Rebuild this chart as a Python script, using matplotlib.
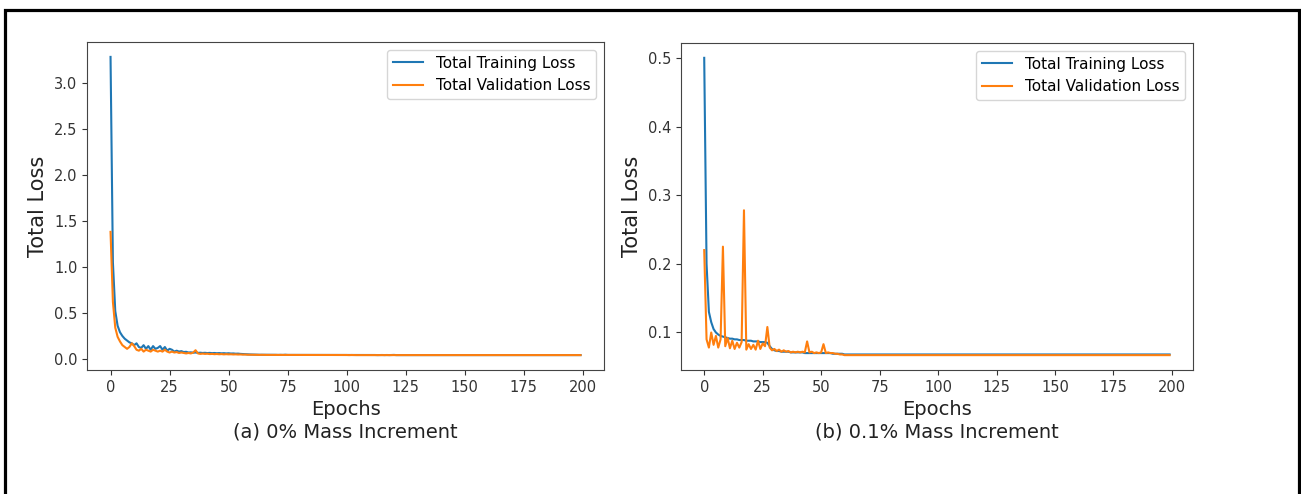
import matplotlib.pyplot as plt
import numpy as np
from matplotlib.patches import Rectangle

# (a) 0% mass increment
train_a = [3.28, 1.05, 0.52, 0.36, 0.29, 0.25, 0.22, 0.20, 0.18, 0.17,
           0.15, 0.17, 0.13, 0.12, 0.15, 0.11, 0.14, 0.10, 0.14, 0.11,
           0.12, 0.14, 0.10, 0.13, 0.09, 0.11, 0.10, 0.08, 0.09, 0.08,
           0.085, 0.075, 0.078, 0.070, 0.072, 0.068, 0.070, 0.066, 0.068, 0.065,
           0.067, 0.064, 0.066, 0.063, 0.065, 0.062, 0.064, 0.061, 0.063, 0.060,
           0.062, 0.059, 0.060, 0.057, 0.058, 0.055, 0.054, 0.052, 0.050, 0.049,
           0.048, 0.047, 0.047, 0.046, 0.046, 0.046, 0.045, 0.045, 0.045, 0.045,
           0.045, 0.044, 0.045, 0.044, 0.046, 0.044, 0.044, 0.045, 0.044, 0.044,
           0.044, 0.044, 0.044, 0.045, 0.044, 0.044, 0.044, 0.043, 0.044, 0.044,
           0.044, 0.043, 0.044, 0.043, 0.043, 0.044, 0.043, 0.043, 0.045, 0.043,
           0.043, 0.043, 0.043, 0.043, 0.043, 0.043, 0.043, 0.043, 0.043, 0.043,
           0.043, 0.043, 0.043, 0.042, 0.043, 0.043, 0.042, 0.043, 0.042, 0.043,
           0.044, 0.042, 0.042, 0.043, 0.042, 0.042, 0.042, 0.042, 0.043, 0.042,
           0.042, 0.042, 0.042, 0.042, 0.042, 0.042, 0.042, 0.042, 0.042, 0.042,
           0.042, 0.042, 0.042, 0.042, 0.042, 0.042, 0.042, 0.042, 0.042, 0.042,
           0.042, 0.042, 0.042, 0.042, 0.042, 0.042, 0.042, 0.042, 0.042, 0.042,
           0.042, 0.042, 0.042, 0.042, 0.042, 0.042, 0.042, 0.042, 0.042, 0.042,
           0.042, 0.042, 0.042, 0.042, 0.042, 0.042, 0.042, 0.042, 0.042, 0.042,
           0.042, 0.042, 0.042, 0.042, 0.042, 0.042, 0.042, 0.042, 0.042, 0.042,
           0.042, 0.042, 0.042, 0.042, 0.042, 0.042, 0.042, 0.042, 0.042, 0.042]
val_a = [1.38, 0.62, 0.34, 0.24, 0.19, 0.15, 0.13, 0.11, 0.13, 0.17,
         0.14, 0.10, 0.09, 0.11, 0.08, 0.10, 0.09, 0.08, 0.10, 0.09,
         0.08, 0.09, 0.08, 0.10, 0.08, 0.07, 0.08, 0.07, 0.075, 0.065,
         0.070, 0.065, 0.060, 0.065, 0.060, 0.070, 0.095, 0.060, 0.055, 0.058,
         0.055, 0.057, 0.053, 0.055, 0.052, 0.054, 0.051, 0.053, 0.050, 0.052,
         0.050, 0.051, 0.049, 0.050, 0.048, 0.049, 0.047, 0.048, 0.046, 0.046,
         0.045, 0.045, 0.045, 0.044, 0.045, 0.044, 0.044, 0.044, 0.044, 0.044,
         0.044, 0.044, 0.044, 0.043, 0.044, 0.043, 0.043, 0.044, 0.043, 0.043,
         0.043, 0.043, 0.043, 0.043, 0.043, 0.043, 0.043, 0.043, 0.043, 0.043,
         0.043, 0.043, 0.043, 0.043, 0.043, 0.043, 0.043, 0.043, 0.043, 0.043,
         0.043, 0.042, 0.043, 0.042, 0.042, 0.042, 0.042, 0.042, 0.042, 0.042,
         0.042, 0.042, 0.042, 0.042, 0.042, 0.042, 0.042, 0.042, 0.042, 0.042,
         0.042, 0.042, 0.042, 0.042, 0.042, 0.042, 0.042, 0.042, 0.042, 0.042,
         0.042, 0.042, 0.042, 0.042, 0.042, 0.042, 0.042, 0.042, 0.042, 0.042,
         0.042, 0.042, 0.042, 0.042, 0.042, 0.042, 0.042, 0.042, 0.042, 0.042,
         0.042, 0.042, 0.042, 0.042, 0.042, 0.042, 0.042, 0.042, 0.042, 0.042,
         0.042, 0.042, 0.042, 0.042, 0.042, 0.042, 0.042, 0.042, 0.042, 0.042,
         0.042, 0.042, 0.042, 0.042, 0.042, 0.042, 0.042, 0.042, 0.042, 0.042,
         0.042, 0.042, 0.042, 0.042, 0.042, 0.042, 0.042, 0.042, 0.042, 0.042,
         0.042, 0.042, 0.042, 0.042, 0.042, 0.042, 0.042, 0.042, 0.042, 0.042]

# (b) 0.1% mass increment
train_b = [0.500, 0.200, 0.130, 0.115, 0.105, 0.100, 0.097, 0.095, 0.094, 0.093,
           0.092, 0.091, 0.091, 0.090, 0.090, 0.089, 0.089, 0.089, 0.088, 0.088,
           0.088, 0.087, 0.087, 0.087, 0.086, 0.086, 0.086, 0.085, 0.080, 0.076,
           0.074, 0.073, 0.073, 0.072, 0.072, 0.072, 0.072, 0.071, 0.071, 0.071,
           0.071, 0.071, 0.071, 0.070, 0.070, 0.070, 0.070, 0.070, 0.070, 0.070,
           0.070, 0.070, 0.070, 0.070, 0.070, 0.069, 0.069, 0.069, 0.069, 0.069,
           0.068, 0.068, 0.068, 0.068, 0.068, 0.068, 0.068, 0.068, 0.068, 0.068,
           0.068, 0.068, 0.068, 0.068, 0.068, 0.068, 0.068, 0.068, 0.068, 0.068,
           0.068, 0.068, 0.068, 0.068, 0.068, 0.068, 0.068, 0.068, 0.068, 0.068,
           0.068, 0.068, 0.068, 0.068, 0.068, 0.068, 0.068, 0.068, 0.068, 0.068,
           0.068, 0.068, 0.068, 0.068, 0.068, 0.068, 0.068, 0.068, 0.068, 0.068,
           0.068, 0.068, 0.068, 0.068, 0.068, 0.068, 0.068, 0.068, 0.068, 0.068,
           0.068, 0.068, 0.068, 0.068, 0.068, 0.068, 0.068, 0.068, 0.068, 0.068,
           0.068, 0.068, 0.068, 0.068, 0.068, 0.068, 0.068, 0.068, 0.068, 0.068,
           0.068, 0.068, 0.068, 0.068, 0.068, 0.068, 0.068, 0.068, 0.068, 0.068,
           0.068, 0.068, 0.068, 0.068, 0.068, 0.068, 0.068, 0.068, 0.068, 0.068,
           0.068, 0.068, 0.068, 0.068, 0.068, 0.068, 0.068, 0.068, 0.068, 0.068,
           0.068, 0.068, 0.068, 0.068, 0.068, 0.068, 0.068, 0.068, 0.068, 0.068,
           0.068, 0.068, 0.068, 0.068, 0.068, 0.068, 0.068, 0.068, 0.068, 0.068,
           0.068, 0.068, 0.068, 0.068, 0.068, 0.068, 0.068, 0.068, 0.068, 0.068]
val_b = [0.220, 0.090, 0.078, 0.100, 0.082, 0.095, 0.078, 0.090, 0.225, 0.080,
         0.092, 0.077, 0.088, 0.076, 0.085, 0.078, 0.086, 0.278, 0.075, 0.083,
         0.076, 0.082, 0.075, 0.088, 0.076, 0.084, 0.080, 0.108, 0.078, 0.074,
         0.076, 0.073, 0.075, 0.072, 0.074, 0.072, 0.073, 0.071, 0.072, 0.071,
         0.072, 0.071, 0.072, 0.071, 0.087, 0.071, 0.072, 0.070, 0.071, 0.070,
         0.071, 0.083, 0.070, 0.071, 0.070, 0.070, 0.069, 0.069, 0.068, 0.068,
         0.067, 0.067, 0.067, 0.067, 0.067, 0.067, 0.067, 0.067, 0.067, 0.067,
         0.067, 0.067, 0.067, 0.067, 0.067, 0.067, 0.067, 0.067, 0.067, 0.067,
         0.067, 0.067, 0.067, 0.067, 0.067, 0.067, 0.067, 0.067, 0.067, 0.067,
         0.067, 0.067, 0.067, 0.067, 0.067, 0.067, 0.067, 0.067, 0.067, 0.067,
         0.067, 0.067, 0.067, 0.067, 0.067, 0.067, 0.067, 0.067, 0.067, 0.067,
         0.067, 0.067, 0.067, 0.067, 0.067, 0.067, 0.067, 0.067, 0.067, 0.067,
         0.067, 0.067, 0.067, 0.067, 0.067, 0.067, 0.067, 0.067, 0.067, 0.067,
         0.067, 0.067, 0.067, 0.067, 0.067, 0.067, 0.067, 0.067, 0.067, 0.067,
         0.067, 0.067, 0.067, 0.067, 0.067, 0.067, 0.067, 0.067, 0.067, 0.067,
         0.067, 0.067, 0.067, 0.067, 0.067, 0.067, 0.067, 0.067, 0.067, 0.067,
         0.067, 0.067, 0.067, 0.067, 0.067, 0.067, 0.067, 0.067, 0.067, 0.067,
         0.067, 0.067, 0.067, 0.067, 0.067, 0.067, 0.067, 0.067, 0.067, 0.067,
         0.067, 0.067, 0.067, 0.067, 0.067, 0.067, 0.067, 0.067, 0.067, 0.067,
         0.067, 0.067, 0.067, 0.067, 0.067, 0.067, 0.067, 0.067, 0.067, 0.067]

captions = ["(a) 0% Mass Increment", "(b) 0.1% Mass Increment"]
epochs = np.arange(len(train_a))

fig = plt.figure(figsize=(13.01, 4.94), dpi=100)
ax1 = fig.add_axes([0.0669, 0.251, 0.3974, 0.664])
ax2 = fig.add_axes([0.5234, 0.251, 0.3935, 0.662])

for ax, tr, va, cap in [(ax1, train_a, val_a, captions[0]), (ax2, train_b, val_b, captions[1])]:
    ax.plot(epochs, tr, color="#1f77b4", lw=1.5, label="Total Training Loss")
    ax.plot(epochs, va, color="#ff7f0e", lw=1.5, label="Total Validation Loss")
    ax.set_xticks([0, 25, 50, 75, 100, 125, 150, 175, 200])
    ax.tick_params(labelsize=10.5, colors="#333333")
    ax.set_xlabel("Epochs\n" + cap, fontsize=14, color="#222222")
    ax.set_ylabel("Total Loss", fontsize=15, color="#222222")
    ax.legend(loc="upper right", fontsize=11)
    for s in ax.spines.values():
        s.set_color("#444444")

ax1.set_yticks([0.0, 0.5, 1.0, 1.5, 2.0, 2.5, 3.0])
ax2.set_yticks([0.1, 0.2, 0.3, 0.4, 0.5])

# black frame round the figure, cut off at the bottom
fig.patches.append(Rectangle((4.5 / 1301, -0.1), 1294 / 1301, 1.1 - 10.5 / 494,
                             transform=fig.transFigure, fill=False,
                             edgecolor="black", lw=2.3, clip_on=False))

fig.savefig("out.png", dpi=100)
